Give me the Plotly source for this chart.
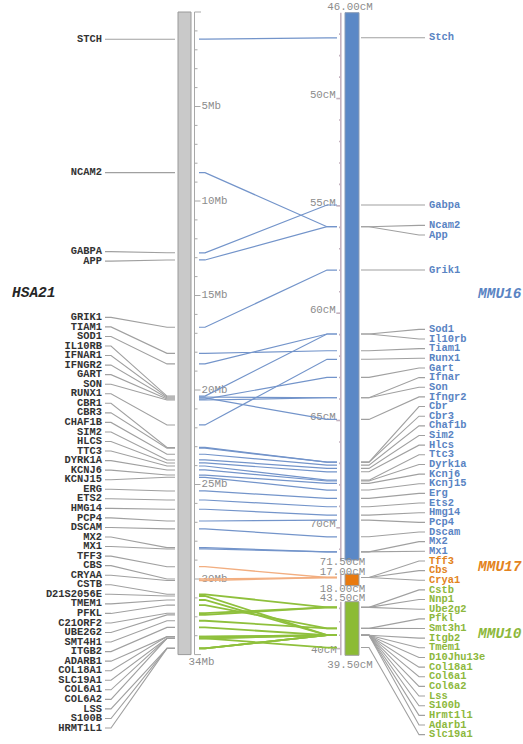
import plotly.graph_objects as go

# ---------------------------------------------------------------- data
HSA21_GENES = [
    "STCH", "NCAM2", "GABPA", "APP", "GRIK1", "TIAM1", "SOD1", "IL10RB",
    "IFNAR1", "IFNGR2", "GART", "SON", "RUNX1", "CBR1", "CBR3", "CHAF1B",
    "SIM2", "HLCS", "TTC3", "DYRK1A", "KCNJ6", "KCNJ15", "ERG", "ETS2",
    "HMG14", "PCP4", "DSCAM", "MX2", "MX1", "TFF3", "CBS", "CRYAA", "CSTB",
    "D21S2056E", "TMEM1", "PFKL", "C21ORF2", "UBE2G2", "SMT4H1", "ITGB2",
    "ADARB1", "COL18A1", "SLC19A1", "COL6A1", "COL6A2", "LSS", "S100B",
    "HRMT1L1",
]
HSA21_MB = [
    1.44, 8.50, 12.74, 13.12, 16.68, 18.06, 18.62, 20.32,
    20.37, 20.42, 20.48, 20.53, 21.85, 23.04, 23.08, 23.40,
    23.70, 23.86, 24.02, 24.23, 24.50, 24.62, 25.34, 25.82,
    26.31, 26.93, 27.35, 28.34, 28.41, 29.35, 30.00, 30.08, 30.81,
    30.90, 31.11, 31.38, 31.81, 31.90, 32.21, 32.56,
    33.05, 33.05, 33.14, 33.14, 33.14, 33.67, 33.67,
    33.67,
]

MMU16_GENES = [
    "Stch", "Gabpa", "Ncam2", "App", "Grik1", "Sod1", "Il10rb", "Tiam1",
    "Runx1", "Gart", "Ifnar", "Son", "Ifngr2", "Cbr", "Cbr3", "Chaf1b",
    "Sim2", "Hlcs", "Ttc3", "Dyrk1a", "Kcnj6", "Kcnj15", "Erg", "Ets2",
    "Hmg14", "Pcp4", "Dscam", "Mx2", "Mx1",
]
MMU16_CM = [
    47.17, 54.96, 55.97, 55.97, 57.99, 60.97, 60.97, 61.75,
    62.15, 62.99, 63.94, 63.94, 64.95, 66.94, 66.94, 67.08,
    67.23, 67.39, 67.78, 67.82, 67.93, 68.24, 68.63, 69.02,
    69.41, 69.64, 70.42, 71.12, 71.12,
]

MMU17_GENES = ["Tff3", "Cbs", "Crya1"]
MMU17_CM = [17.30, 17.30, 17.30]

MMU10_GENES = [
    "Cstb", "Nnp1", "Ube2g2", "Pfkl", "Smt3h1", "Itgb2", "Tmem1",
    "D10Jhu13e", "Col18a1", "Col6a1", "Col6a2", "Lss", "S100b", "Hrmt1l1",
    "Adarb1", "Slc19a1",
]
MMU10_CM = [
    43.08, 43.08, 43.08, 41.51, 41.51, 41.00, 41.00,
    41.00, 41.00, 41.00, 41.00, 41.00, 41.00, 41.00,
    41.00, 40.08,
]

# human gene -> mouse orthologue
ORTHOLOGS = {
    "STCH": "Stch", "NCAM2": "Ncam2", "GABPA": "Gabpa", "APP": "App",
    "GRIK1": "Grik1", "TIAM1": "Tiam1", "SOD1": "Sod1", "IL10RB": "Il10rb",
    "IFNAR1": "Ifnar", "IFNGR2": "Ifngr2", "GART": "Gart", "SON": "Son",
    "RUNX1": "Runx1", "CBR1": "Cbr", "CBR3": "Cbr3", "CHAF1B": "Chaf1b",
    "SIM2": "Sim2", "HLCS": "Hlcs", "TTC3": "Ttc3", "DYRK1A": "Dyrk1a",
    "KCNJ6": "Kcnj6", "KCNJ15": "Kcnj15", "ERG": "Erg", "ETS2": "Ets2",
    "HMG14": "Hmg14", "PCP4": "Pcp4", "DSCAM": "Dscam", "MX2": "Mx2",
    "MX1": "Mx1", "TFF3": "Tff3", "CBS": "Cbs", "CRYAA": "Crya1",
    "CSTB": "Cstb", "D21S2056E": "D10Jhu13e", "TMEM1": "Tmem1",
    "PFKL": "Pfkl", "C21ORF2": "Nnp1", "UBE2G2": "Ube2g2",
    "SMT4H1": "Smt3h1", "ITGB2": "Itgb2", "ADARB1": "Adarb1",
    "COL18A1": "Col18a1", "SLC19A1": "Slc19a1", "COL6A1": "Col6a1",
    "COL6A2": "Col6a2", "LSS": "Lss", "S100B": "S100b", "HRMT1L1": "Hrmt1l1",
}

HSA21_SPAN_MB = (0, 34)
MMU16_SPAN_CM = (46.0, 71.5)
MMU17_SPAN_CM = (17.0, 18.0)
MMU10_SPAN_CM = (43.5, 39.5)
HSA21_TICK_MB = [5, 10, 15, 20, 25, 30]
MMU16_TICK_CM = [50, 55, 60, 65, 70]
MMU10_TICK_CM = [40]

# ---------------------------------------------------------------- styling
W, H = 523, 744
MONO = "Liberation Mono"
GENE_SIZE = 10.4
GREY_TXT = "#8c8c8c"
LEADER = "#a0a0a0"
BLUE, BLUE_LINE, BLUE_TXT = "#5b88c6", "#7394ca", "#5a84c3"
ORANGE, ORANGE_LINE, ORANGE_TXT = "#e8790f", "#f2ae80", "#e38320"
GREEN, GREEN_LINE, GREEN_TXT = "#8cbb34", "#8fc03c", "#8db83c"


def linear(d0, d1, r0, r1):
    return lambda v: r0 + (v - d0) * (r1 - r0) / (d1 - d0)


# vertical scales of each chromosome (data units -> page pixels)
y_hsa = linear(*HSA21_SPAN_MB, 12.0, 654.6)
y_m16 = linear(*MMU16_SPAN_CM, 12.7, 560.0)
y_m17 = linear(*MMU17_SPAN_CM, 574.0, 585.7)
y_m10 = linear(*MMU10_SPAN_CM, 601.7, 655.3)


def spread(targets, step, shift=0.0):
    """Place labels as close to their targets as possible, never closer
    than `step` apart, keeping their order (pool-adjacent-violators)."""
    blocks = []  # [start, count, sum of shifted targets]
    for i, t in enumerate(targets):
        blocks.append([i, 1, t])
        while len(blocks) > 1:
            a, b = blocks[-2], blocks[-1]
            top_a, top_b = a[2] / a[1], b[2] / b[1]
            if top_a + a[1] * step > top_b:
                a[2] += b[2] - b[1] * a[1] * step
                a[1] += b[1]
                blocks.pop()
            else:
                break
    out = []
    for s, n, tot in blocks:
        top = tot / n + (shift if n > 1 else 0.0)
        out += [top + k * step for k in range(n)]
    return out


def polyline(segments):
    xs, ys = [], []
    for seg in segments:
        for x, y in seg:
            xs.append(x)
            ys.append(y)
        xs.append(None)
        ys.append(None)
    return xs, ys


fig = go.Figure()


def add_lines(segments, color, width):
    xs, ys = polyline(segments)
    fig.add_trace(go.Scatter(x=xs, y=ys, mode="lines", hoverinfo="skip",
                             line=dict(color=color, width=width)))


def add_text(xs, ys, texts, pos, color, size=GENE_SIZE, weight="bold",
             style="normal"):
    fig.add_trace(go.Scatter(
        x=xs, y=ys, text=texts, mode="text", textposition=pos,
        hoverinfo="skip",
        textfont=dict(family=MONO, size=size, color=color, weight=weight,
                      style=style)))


# ---------------------------------------------------------------- positions
hsa_y = {g: y_hsa(v) for g, v in zip(HSA21_GENES, HSA21_MB)}
mouse_y, mouse_chr = {}, {}
for genes, cms, scale, tag in [(MMU16_GENES, MMU16_CM, y_m16, 16),
                               (MMU17_GENES, MMU17_CM, y_m17, 17),
                               (MMU10_GENES, MMU10_CM, y_m10, 10)]:
    for g, c in zip(genes, cms):
        mouse_y[g] = scale(c)
        mouse_chr[g] = tag

left_lab = spread([hsa_y[g] for g in HSA21_GENES], 9.55)
right_genes = MMU16_GENES + MMU17_GENES + MMU10_GENES
right_lab = spread([mouse_y[g] for g in right_genes], 9.65, shift=3.5)

# ---------------------------------------------------------------- chromosomes
shapes = []


def bar(x0, x1, y0, y1, fill, edge):
    shapes.append(dict(type="rect", xref="x", yref="y", x0=x0, x1=x1,
                       y0=y0, y1=y1, fillcolor=fill,
                       line=dict(color=edge, width=1), layer="below"))


bar(178, 191, y_hsa(HSA21_SPAN_MB[0]), y_hsa(HSA21_SPAN_MB[1]),
    "#c9c9c9", "#9a9a9a")
bar(345, 359, y_m16(MMU16_SPAN_CM[0]), y_m16(MMU16_SPAN_CM[1]),
    BLUE, "#8a9bb5")
bar(345, 359, y_m17(MMU17_SPAN_CM[0]), y_m17(MMU17_SPAN_CM[1]),
    ORANGE, "#a0a0a0")
bar(345, 359, y_m10(MMU10_SPAN_CM[0]), y_m10(MMU10_SPAN_CM[1]),
    GREEN, "#a0a0a0")

# human ruler
RX = 194.5
segs = [[(RX, y_hsa(0)), (RX, y_hsa(34))],
        [(RX, y_hsa(0)), (RX + 6.5, y_hsa(0))],
        [(RX, y_hsa(34)), (RX + 6.5, y_hsa(34))]]
for mb in range(1, 34):
    segs.append([(RX, y_hsa(mb)),
                 (RX + (6 if mb in HSA21_TICK_MB else 3), y_hsa(mb))])
add_lines(segs, "#a8a8a8", 1)
add_text([RX + 7] * len(HSA21_TICK_MB), [y_hsa(v) for v in HSA21_TICK_MB],
         [f"{v}Mb" for v in HSA21_TICK_MB], "middle right", GREY_TXT,
         size=10.8, weight="normal")
add_text([201.5], [y_hsa(34) + 7.5], ["34Mb"], "middle center", GREY_TXT,
         size=10.8, weight="normal")

# mouse rulers
MX = 340.8
segs = [[(MX, y_m16(46)), (MX, y_m16(71.5))],
        [(MX, y_m17(17)), (MX, y_m17(18))],
        [(MX, y_m10(43.5)), (MX, y_m10(39.5))]]
for cm in range(47, 72):
    segs.append([(MX - (4.5 if cm in MMU16_TICK_CM else 1.8), y_m16(cm)),
                 (MX, y_m16(cm))])
for cm in range(40, 44):
    segs.append([(MX - (4.5 if cm in MMU10_TICK_CM else 1.8), y_m10(cm)),
                 (MX, y_m10(cm))])
add_lines(segs, "#c4b2bf", 1.6)
add_text([MX - 5] * len(MMU16_TICK_CM),
         [y_m16(v) - 3 for v in MMU16_TICK_CM],
         [f"{v}cM" for v in MMU16_TICK_CM], "middle left", GREY_TXT,
         size=10.8, weight="normal")
add_text([MX - 4], [y_m10(40) + 2], ["40cM"], "middle left", GREY_TXT,
         size=10.8, weight="normal")
add_text([350, 342.5, 342.5, 342.5, 342.5, 350],
         [7.3, 562.7, 572.3, 589.2, 598.3, 665.3],
         [f"{MMU16_SPAN_CM[0]:.2f}cM", f"{MMU16_SPAN_CM[1]:.2f}cM",
          f"{MMU17_SPAN_CM[0]:.2f}cM", f"{MMU17_SPAN_CM[1]:.2f}cM",
          f"{MMU10_SPAN_CM[0]:.2f}cM", f"{MMU10_SPAN_CM[1]:.2f}cM"],
         "middle center", GREY_TXT, size=10.8, weight="normal")

# ---------------------------------------------------------------- leaders
segs = []
for g, ly in zip(HSA21_GENES, left_lab):
    gy = hsa_y[g]
    segs.append([(105, ly), (111, ly), (167, gy), (175, gy)])
for g, ly in zip(right_genes, right_lab):
    gy = mouse_y[g]
    segs.append([(361, gy), (369, gy), (419, ly), (425, ly)])
add_lines(segs, LEADER, 1.1)

# orthologue connectors, one colour per mouse chromosome
conn = {16: [], 17: [], 10: []}
for h, m in ORTHOLOGS.items():
    hy, my = hsa_y[h], mouse_y[m]
    conn[mouse_chr[m]].append([(199, hy), (205, hy), (327, my), (337, my)])
add_lines(conn[16], BLUE_LINE, 1.2)
add_lines(conn[17], ORANGE_LINE, 1.3)
add_lines(conn[10], GREEN_LINE, 1.8)

# ---------------------------------------------------------------- labels
add_text([102] * len(HSA21_GENES), left_lab, HSA21_GENES, "middle left",
         "#333333")
colors = {16: BLUE_TXT, 17: ORANGE_TXT, 10: GREEN_TXT}
for tag in (16, 17, 10):
    idx = [i for i, g in enumerate(right_genes) if mouse_chr[g] == tag]
    add_text([429] * len(idx), [right_lab[i] for i in idx],
             [right_genes[i] for i in idx], "middle right", colors[tag])

add_text([12], [293.5], ["HSA21"], "middle right", "#262626", size=14.5,
         style="italic")
add_text([478], [294.5], ["MMU16"], "middle right", BLUE_TXT, size=14.5,
         style="italic")
add_text([478], [567.5], ["MMU17"], "middle right", ORANGE_TXT, size=14.5,
         style="italic")
add_text([478], [634.5], ["MMU10"], "middle right", GREEN_TXT, size=14.5,
         style="italic")

fig.update_layout(
    width=W, height=H, margin=dict(l=0, r=0, t=0, b=0),
    paper_bgcolor="white", plot_bgcolor="white", showlegend=False,
    shapes=shapes,
    xaxis=dict(range=[0, W], visible=False, fixedrange=True),
    yaxis=dict(range=[H, 0], visible=False, fixedrange=True),
)
fig.write_html("out.html")
